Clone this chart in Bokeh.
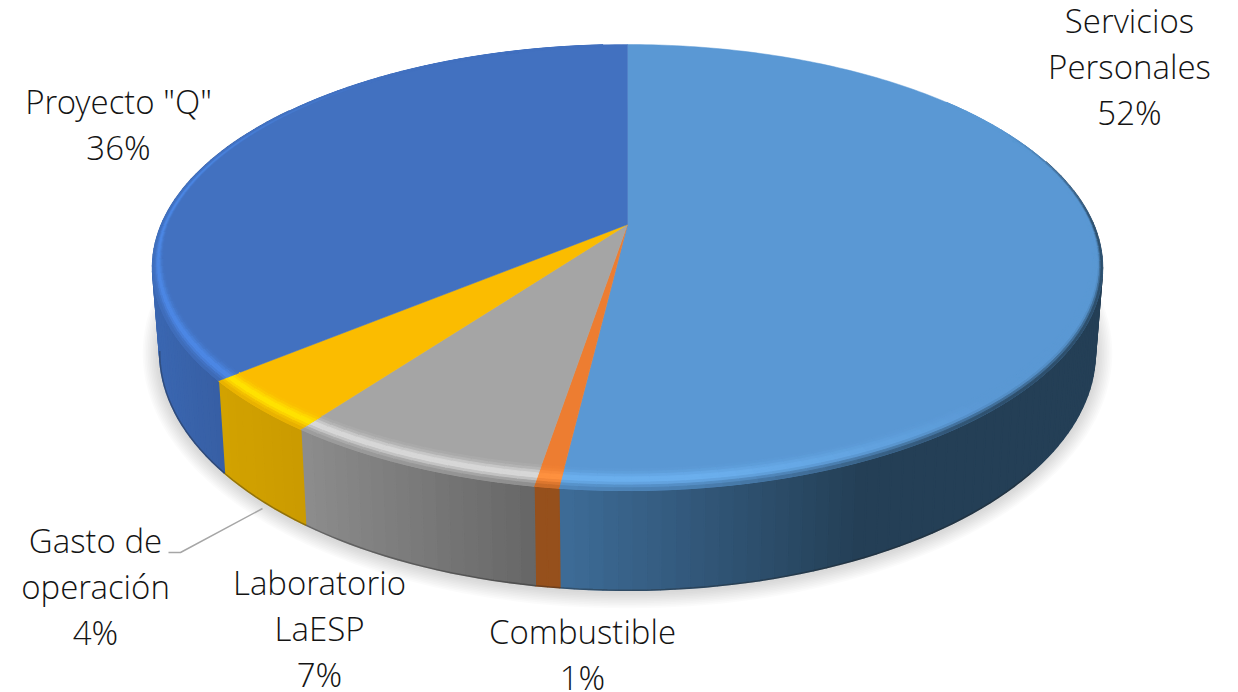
import numpy as np
from bokeh.plotting import figure
from bokeh.embed import file_html
from bokeh.resources import INLINE
from bokeh.core.properties import value

categories = ["Servicios\nPersonales", "Combustible", "Laboratorio\nLaESP", "Gasto de\noperación", 'Proyecto "Q"']
shares = [51.9, 0.7, 7.49, 3.9, 36.01]
percent_labels = ["52%", "1%", "7%", "4%", "36%"]

top_colors = ["#5A98D4", "#ED7D31", "#A5A5A5", "#FBBC00", "#4271C0"]
light_colors = ["#6CB0EE", "#FF9240", "#DADADA", "#FFE400", "#4C88E6"]
wall_left = ["#3D6B96", "#96501C", "#8C8C8C", "#D2A200", "#3A66B0"]
wall_right = ["#243F56", "#96501C", "#666666", "#CA9A00", "#375EA3"]
wall_span = [(565, 860), (530, 565), (303, 535), (222, 303), (158, 222)]

label_x = [1129, 582, 319, 95, 118]
label_y = [66, 654, 628, 586, 124]
leader_x = [262, 180, 168]
leader_y = [508, 552, 552]

CX, CY, CY2 = 627.0, 224.0, 306.0
A, B, A2, B2, K = 466.0, 214.7, 459.0, 229.0, 0.193


def project(f, r=1.0, level=0):
    f = np.asarray(f, dtype=float)
    u = r * np.sin(2 * np.pi * f)
    v = -r * np.cos(2 * np.pi * f)
    s = 1 / (1 - K * v)
    if level == 0:
        return CX + A * u * s, CY + B * v * s
    return CX + A2 * u * s, CY2 + B2 * v * s


def rgb(h):
    return np.array([int(h[i:i + 2], 16) for i in (1, 3, 5)], dtype=float)


def mix(a, b, t):
    return a + (b - a) * t


def tohex(c):
    c = np.clip(np.round(c), 0, 255).astype(int)
    return "#%02x%02x%02x" % tuple(c)


p = figure(width=1238, height=692, x_range=(0, 1238), y_range=(692, 0),
           output_backend="svg", toolbar_location=None, min_border=0,
           outline_line_color=None, background_fill_color="white", border_fill_color="white")
p.axis.visible = False
p.grid.visible = False

total = sum(shares)
edges = np.concatenate([[0], np.cumsum(shares) / total])
ring = np.linspace(0, 1, 241)

# soft shadow beneath the disc
for e in np.linspace(17, 2, 10):
    x, y = project(ring, 1.0, 1)
    x = CX + (x - CX) * (1 + e / 470)
    y = 352 + (y - 352) * (1 + e / 238)
    p.patch(x, y + 1, fill_color="#808080", fill_alpha=0.03, line_color=None)


def wall_color(i, x):
    x0, x1 = wall_span[i]
    t = np.clip((x - x0) / (x1 - x0), 0, 1)
    return mix(rgb(wall_left[i]), rgb(wall_right[i]), t)


# side wall, in narrow strips so that the shading runs across it
for i in range(len(shares)):
    a, b = edges[i], edges[i + 1]
    lo, hi = max(a, 0.2), min(b, 0.85)
    if hi <= lo:
        continue
    n = max(2, int((hi - lo) / 0.004))
    fs = np.linspace(lo, hi, n + 1)
    xs, ys, cs = [], [], []
    for f0, f1 in zip(fs[:-1], fs[1:]):
        x0, y0 = project([f0, f1], 1.0, 0)
        x1, y1 = project([f1, f0], 1.0, 1)
        xs.append(list(x0) + list(x1))
        ys.append(list(y0) + list(y1))
        cs.append(tohex(wall_color(i, x0.mean())))
    p.patches(xs, ys, fill_color=cs, line_color=cs, line_width=1.6)

# darker seam at the foot of the wall
fx, fy = project(np.linspace(0.36, 0.72, 90), 1.0, 1)
p.line(fx, fy, line_color="#202020", line_alpha=0.35, line_width=1.5)

# flat top
for i in range(len(shares)):
    fs = np.linspace(edges[i], edges[i + 1], max(3, int(shares[i] * 4)))
    x, y = project(fs)
    p.patch(np.r_[CX, x], np.r_[CY, y], fill_color=top_colors[i], line_color=top_colors[i], line_width=0.5)


def highlight(f):
    return float(np.clip((f - 0.38) / 0.10, 0, 1) * np.clip((0.90 - f) / 0.12, 0, 1))


def darken(f):
    return float(np.clip((f - 0.17) / 0.08, 0, 1) * np.clip((0.80 - f) / 0.10, 0, 1))


# bevel along the rim
xs, ys, cs = [], [], []
levels = np.linspace(0, 1, 9)
for i in range(len(shares)):
    a, b = edges[i], edges[i + 1]
    lo, hi = max(a, 0.14), min(b, 0.99)
    if hi <= lo:
        continue
    n = max(2, int((hi - lo) / 0.005))
    fs = np.linspace(lo, hi, n + 1)
    for f0, f1 in zip(fs[:-1], fs[1:]):
        fm = (f0 + f1) / 2
        xm, ym = project(fm)
        front = float(np.clip((ym - CY) / 266, 0, 1))
        width = 0.014 + 0.053 * front
        wc = wall_color(i, xm)
        L, D = highlight(fm), darken(fm)
        for t0, t1 in zip(levels[:-1], levels[1:]):
            r0, r1 = 1 - width * (1 - t0), 1 - width * (1 - t1)
            x0, y0 = project([f0, f1], r0)
            x1, y1 = project([f1, f0], r1)
            tm = (t0 + t1) / 2
            c = mix(rgb(top_colors[i]), rgb(light_colors[i]), L * np.exp(-((tm - 0.5) / 0.28) ** 2))
            c = mix(c, wc, D * np.clip((tm - 0.65) / 0.35, 0, 1) * (0.5 + 0.5 * (1 - L)))
            xs.append(list(x0) + list(x1))
            ys.append(list(y0) + list(y1))
            cs.append(tohex(c))
p.patches(xs, ys, fill_color=cs, line_color=cs, line_width=0.9)

# leader line and labels
p.line(leader_x, leader_y, line_color="#A6A6A6", line_width=1.5)
texts = [f"{c}\n{l}" for c, l in zip(categories, percent_labels)]
p.text(label_x, label_y, text=texts, text_font=value("Open Sans Light"), text_font_size="33px",
       text_color="#141414", text_align="center", text_baseline="middle", text_line_height=1.02)

open("out.html", "w").write(file_html(p, INLINE))
